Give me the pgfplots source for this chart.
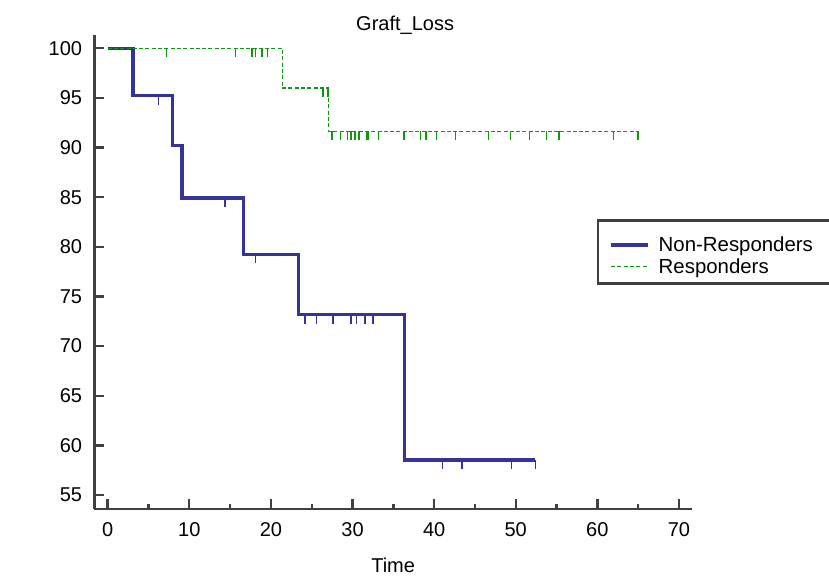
\documentclass[border=0pt]{standalone}
\usepackage{fontspec}
\setmainfont{Liberation Sans}
\usepackage{pgfplots}
\pgfplotsset{compat=1.18}
\definecolor{nrblue}{RGB}{51,51,153}
\definecolor{rgreen}{RGB}{17,150,17}
\definecolor{spine}{RGB}{64,64,64}
\pgfdeclareplotmark{cens}{\pgfpathmoveto{\pgfqpoint{0pt}{0pt}}\pgfpathlineto{\pgfqpoint{0pt}{-9pt}}\pgfusepathqstroke}
\begin{document}
\begin{tikzpicture}
\useasboundingbox (-94.3pt,-66pt) rectangle (734.7pt,509pt);
\begin{axis}[
  at={(0pt,0pt)}, anchor=south west,
  scale only axis, width=597.7pt, height=474pt,
  xmin=-1.64, xmax=71.6, ymin=53.59, ymax=101.34,
  axis lines=left, axis line style={-, line width=2.6pt, color=spine},
  xtick={0,10,...,70}, ytick={55,60,...,100},
  minor x tick num=1,
  tick align=inside, major tick length=10pt, minor tick length=5pt,
  every tick/.style={line width=2.4pt, color=spine},
  /pgf/number format/assume math mode=true,
  tick label style={font=\fontsize{20}{24}\selectfont},
  xticklabel style={anchor=base, yshift=-27pt},
  yticklabel style={anchor=east, inner sep=0pt, xshift=-12pt},
  xlabel={Time},
  xlabel style={at={(axis description cs:0.5,0)}, anchor=base, yshift=-63pt, font=\fontsize{20}{24}\selectfont},
  title={Graft\_Loss},
  title style={at={(axis description cs:0.52,1)}, anchor=base, yshift=-2pt, font=\fontsize{20}{24}\selectfont},
  legend style={at={(axis description cs:0.8406,0.6112)}, anchor=north west,
    draw=spine, line width=2.4pt, font=\fontsize{20.4}{24}\selectfont,
    inner xsep=0pt, inner ysep=0pt, row sep=5.4pt, nodes={inner sep=0pt}},
  legend cell align=left,
  clip=false,
]
\addplot[const plot, color=nrblue, line width=3.2pt,
  legend image code/.code={\path (-11.6pt,23pt); \draw[nrblue, line width=3.2pt] (0pt,0pt) -- (37pt,0pt); \path (46pt,0pt);}] coordinates {
 (0,100) (3.1,95.24) (7.9,90.23) (9.1,84.92) (16.6,79.26) (23.4,73.16) (36.4,58.53) (52.4,58.53)};
\addlegendentry{\makebox[176pt][l]{Non-Responders}}
\addplot[const plot, color=rgreen, line width=1.3pt, dash pattern=on 4pt off 2.3pt,
  legend image code/.code={\path (-11.6pt,-16pt); \draw[rgreen, line width=1.3pt, dash pattern=on 4pt off 2.3pt] (0pt,0pt) -- (37pt,0pt); \path (46pt,0pt);}] coordinates {
 (0,100) (21.4,96.0) (27.1,91.64) (65.0,91.64)};
\addlegendentry{Responders}
\addplot[forget plot, only marks, mark=cens, color=nrblue, mark options={line width=1.5pt, solid}] coordinates {
 (6.2,95.24) (8.9,90.23) (14.4,84.92) (18.1,79.26)
 (24.2,73.16) (25.6,73.16) (27.6,73.16) (29.8,73.16) (30.5,73.16) (31.5,73.16) (32.5,73.16)
 (41.0,58.53) (43.4,58.53) (49.5,58.53) (52.4,58.53)};
\addplot[forget plot, only marks, mark=cens, color=rgreen, mark options={line width=1.3pt, solid}] coordinates {
 (7.2,100) (15.7,100) (17.7,100) (18.1,100) (18.9,100) (19.6,100)
 (26.4,96.0) (27.0,96.0)
 (27.5,91.64) (28.5,91.64) (29.4,91.64) (29.8,91.64) (30.3,91.64) (30.8,91.64) (31.7,91.64)
 (31.9,91.64) (33.2,91.64) (36.3,91.64) (38.3,91.64) (39.0,91.64) (40.3,91.64) (42.6,91.64)
 (46.7,91.64) (49.4,91.64) (51.7,91.64) (53.8,91.64) (55.3,91.64) (62.0,91.64) (65.0,91.64)};
\end{axis}
\end{tikzpicture}
\end{document}
